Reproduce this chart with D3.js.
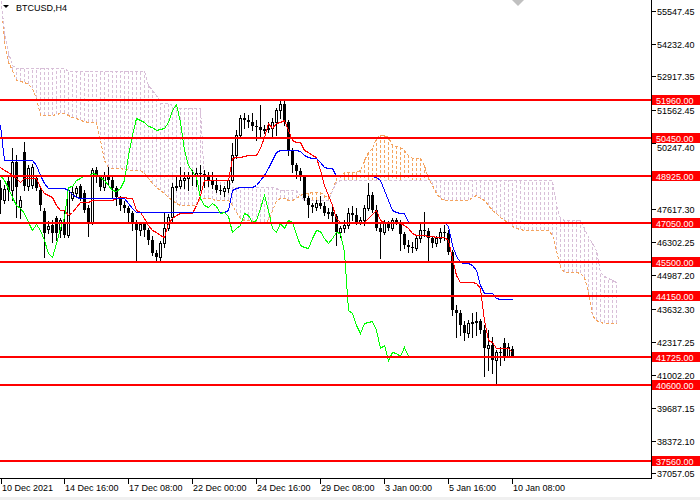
<!DOCTYPE html>
<html><head><meta charset="utf-8">
<script src="https://cdn.jsdelivr.net/npm/d3@7"></script>
<style>
html,body{margin:0;padding:0;background:#fff;}
svg{display:block;}
text{font-family:"Liberation Sans",Arial,sans-serif;font-size:9px;}
</style></head><body>
<svg id="c" width="700" height="500"></svg>
<script>
const title = "BTCUSD,H4";
const timeLabels = ["10 Dec 2021","14 Dec 16:00","17 Dec 08:00","22 Dec 00:00","24 Dec 16:00","29 Dec 08:00","3 Jan 00:00","5 Jan 16:00","10 Jan 08:00"];
const timeLabelBars = [0,16,32,48,64,80,96,112,128];
const priceTicks = [55547.45,54232.40,52917.35,51562.45,50247.40,47617.30,46302.25,44987.20,43632.30,42317.25,41002.20,39687.15,38372.10,37057.05];
const levels = [51960,50450,48925,47050,45500,44150,41725,40600,37560];

const open = [48450,47970,48730,48370,49490,47690,49890,48530,48570,48850,
48370,47530,46820,46980,47250,46780,47090,46580,48050,48250,
48530,48250,47650,47090,49170,48890,48490,48970,48770,48450,
48090,47770,47650,47450,47090,46780,47010,46780,46380,45860,
45700,46260,46860,47290,48490,48530,48770,48850,48970,48930,
49050,49010,48890,48770,48570,48370,48330,48450,48770,49770,
50560,51240,51160,51080,50920,50880,50760,50800,50840,51080,
51560,51800,51080,49970,49370,49130,48890,48050,47770,47690,
47850,47730,47450,47490,47330,46700,46860,46980,47450,47370,
47090,47170,47650,48170,47570,46860,46700,47050,46860,47170,
47090,46620,46180,46100,46060,46460,46780,46740,46460,46260,
46460,46700,46660,45900,43580,43460,42990,42670,43070,43110,
43150,42790,42070,42190,41590,41910,42270,41750,42030];
const high = [48770,48570,48930,50050,49770,48130,50290,49370,49410,48970,
48450,47650,47130,47170,47330,47250,47570,48450,48490,48530,
48610,48370,47770,49250,49290,48970,49090,49290,48890,48530,
48130,47930,47730,47530,47170,47090,47090,46860,46540,45980,
46340,47450,47410,48650,48930,49290,49090,49090,49170,49250,
49370,49170,49090,49090,48850,48570,48530,48850,50250,50760,
51360,51440,51360,51440,51160,51760,50960,51080,51240,51640,
52000,51920,51160,50050,49450,49250,48970,48130,47850,47970,
48130,47890,47650,47690,47410,46940,47170,47650,47730,47650,
47290,47770,48650,48290,47770,47090,47170,47130,47250,47250,
47170,46700,46380,46300,46540,47050,47490,46860,46540,46540,
46860,46980,46780,45980,43780,43580,43140,43180,43460,43500,
43220,42990,42790,42510,41990,42110,42470,42270,42150];
const low = [47450,47850,47970,47970,47290,47250,48370,48370,48450,48370,
47570,45700,46660,46300,46380,46500,46500,46500,47970,48130,
47970,47490,46540,47010,48690,48370,48370,48610,48090,47770,
47570,47490,47090,46780,45500,46580,46540,46220,45780,45500,
45580,46100,46780,47090,48370,48450,48450,48370,48570,48530,
48370,48490,48530,48450,48290,48210,48130,48290,48690,49650,
50450,50840,50880,50760,50370,50490,50650,50690,50490,50560,
51240,50960,49770,49090,48850,48770,47970,47290,47490,47570,
47650,47370,47250,47090,46180,46500,46700,46860,47170,47010,
47010,46980,47570,47490,46780,45660,46620,46780,46780,47010,
45980,46060,45900,45900,45980,46300,46540,45500,46100,46140,
46300,46380,45820,43390,42510,42590,42390,42510,42510,42590,
42670,40950,41190,41070,40670,41390,41590,41710,41750];
const close = [47970,48410,48370,49490,48490,47970,48530,49250,49290,48450,
47770,46660,46940,46660,46660,47170,46580,48370,48290,48450,
48050,47570,47050,49170,48890,48490,48970,48770,48450,48090,
47770,47650,47450,47090,46780,47010,46780,46380,45860,45700,
46260,46860,47290,48490,48530,48770,48850,48970,48930,49050,
49010,48890,48770,48570,48370,48330,48450,48770,49770,50560,
51240,51160,51080,50920,50880,50760,50800,50840,51080,51560,
51800,51080,49970,49370,49130,48890,48050,47770,47690,47850,
47730,47450,47490,47330,46700,46860,46980,47450,47370,47090,
47170,47650,48170,47570,46860,46700,47050,46860,47170,47090,
46620,46180,46100,46060,46460,46780,46740,46460,46260,46460,
46700,46660,45900,43580,43460,42990,42670,43070,43110,43150,
42790,42070,42190,41590,41910,41870,41750,42110,41750];

const tenkan = [49290,49170,49090,48970,48850,48690,48850,48850,48850,48850,
48490,48250,48170,48090,47770,47570,47570,47370,47490,47690,
47890,47890,47890,47970,47970,47970,47970,47970,47970,48050,
48090,48090,48050,48050,47570,47490,47250,46970,46780,46700,
46580,46500,47050,47250,47370,47450,47450,47450,47450,47770,
48170,48770,48770,48770,48770,48770,48770,48770,49650,49690,
49690,49730,49770,49770,49770,50050,50480,51040,50840,51040,
51080,51160,50760,50370,50290,50290,49970,49890,49770,49690,
49170,48570,48170,47770,47250,47090,47090,47090,47090,47090,
47050,47090,47250,47410,47570,47170,47090,47090,47090,47050,
47050,46970,46850,46650,46580,46580,46580,46540,46540,46500,
46500,46500,46380,45660,44980,44700,44700,44700,44700,44660,
44460,43180,42390,42310,42070,42070,42070,42070,41910];
const kijun = [50960,49570,49570,49570,49570,49570,49570,49570,49570,49370,
48970,48650,48450,48450,48450,48450,48450,48370,48210,48090,
48050,48050,48050,48050,48050,48050,48050,48050,48050,48050,
48050,48050,47850,47650,47490,47490,47490,47490,47490,47490,
47490,47490,47490,47490,47490,47490,47490,47490,47490,47490,
47490,47490,47490,47490,47490,47490,47490,47570,48370,48450,
48490,48490,48490,48490,48570,48770,48970,49250,49570,49890,
49970,49970,49970,49970,49970,49930,49770,49690,49650,49650,
49490,49290,49250,49250,48930,48930,48930,48930,48930,48930,
48930,48930,48930,48930,48890,48770,48370,47970,47570,47490,
47450,47450,47090,47090,47090,47090,47090,47090,47090,47090,
47090,47090,46940,46180,45740,45500,45460,45460,45380,45180,
44580,44260,44260,44260,44060,44020,44020,44020,44020];
const spanA = [56350,54350,53480,53160,52760,52720,52680,52600,52440,52040,
51360,51360,51360,51360,51400,51440,51440,51360,51280,51240,
51160,51120,51080,51080,51080,50370,49570,49290,49250,49250,
49250,49210,49210,49170,49170,49170,49050,48850,48650,48490,
48370,48250,48090,47970,47850,47770,47770,47770,47770,47770,
48050,48050,48050,48010,47970,47970,47970,47970,47770,47490,
47250,47170,47170,47130,47090,47090,47090,47170,47570,47970,
48050,48050,47970,47970,48050,48170,48250,48250,48290,48290,
48290,48170,48050,48370,48850,48970,49090,49090,49090,49090,
49170,49570,49890,50050,50440,50560,50560,50480,50170,50130,
50090,49970,49770,49650,49650,49650,49370,48850,48570,48250,
48050,47970,47970,47970,47970,47970,47970,47970,48090,48170,
48050,47970,47770,47570,47450,47290,47170,47090,46930,46850,
46810,46780,46780,46780,46780,46780,46780,46780,46580,45980,
45300,45100,45100,45100,45100,45060,44900,44300,43380,43180,
43100,43070,43070,43070,43070];
const spanB = [56150,54750,53880,53360,53240,53240,53240,53240,53240,53240,
53240,53240,53240,53240,53240,53240,53240,53120,53120,53120,
53120,53120,53120,53120,53120,53120,53120,53120,53120,53120,
53120,53120,53120,53120,53120,53120,53120,52560,52360,52160,
51840,51840,51840,51760,51640,51640,51640,51640,51640,51640,
51640,48770,48770,48770,48770,48770,48770,48770,48490,48490,
48490,48490,48490,48490,48490,48490,48490,48490,48490,48450,
48370,48370,48370,48370,48370,48170,47970,47970,47970,47970,
47970,47970,47970,48370,48690,48770,48770,48770,48770,48770,
48770,48770,48770,48770,48770,48770,48770,48770,48770,48770,
48770,48770,48770,48770,48770,48770,48770,48770,48770,48770,
48770,48770,48770,48770,48770,48770,48770,48770,48770,48770,
48770,48770,48770,48770,48770,48770,48770,48770,48770,48770,
48770,48770,48770,48770,48770,48770,48770,48770,48770,47770,
47250,47170,47170,47170,47170,47170,46860,46500,46260,45980,
45100,44940,44860,44780,44700];

const plotR = 651, plotB = 478;
const svg = d3.select("#c");
const x = d3.scaleLinear().domain([0,128]).range([0.5,512.5]);
const y = d3.scaleLinear().domain([51960,37560]).range([100.4,460.85]);
const col = i => Math.floor(x(i));
const ry = v => Math.round(y(v));

svg.append("rect").attr("width",700).attr("height",500).attr("fill","#fff");
svg.append("defs").append("clipPath").attr("id","plot").append("rect")
  .attr("x",0).attr("y",0).attr("width",plotR).attr("height",plotB);
const g = svg.append("g").attr("clip-path","url(#plot)").attr("shape-rendering","crispEdges");

// cloud hatch
const cloudIdx = d3.range(spanA.length);
g.append("g").selectAll("line").data(cloudIdx).join("line")
  .attr("x1",i=>col(i)+0.5).attr("x2",i=>col(i)+0.5)
  .attr("y1",i=>ry(spanA[i])).attr("y2",i=>ry(spanB[i]))
  .attr("stroke",i=>spanA[i]>=spanB[i]?"#F4A460":"#D8BFD8")
  .attr("stroke-width",1).attr("stroke-dasharray","3,2");
const lineGen = arr => d3.line().x((d,i)=>col(i)+0.5).y(d=>ry(d)+0.5)(arr);
g.append("path").attr("d",lineGen(spanA)).attr("fill","none").attr("stroke","#F4A460").attr("stroke-dasharray","3,2");
g.append("path").attr("d",lineGen(spanB)).attr("fill","none").attr("stroke","#D8BFD8").attr("stroke-dasharray","3,2");

// candles
const bars = d3.range(close.length);
const cg = g.append("g");
bars.forEach(i=>{
  const c = col(i);
  cg.append("line").attr("x1",c+0.5).attr("x2",c+0.5)
    .attr("y1",ry(high[i])).attr("y2",ry(low[i])+1).attr("stroke","#000");
  const top = ry(Math.max(open[i],close[i])), bot = ry(Math.min(open[i],close[i]));
  if (close[i] >= open[i]) {
    cg.append("rect").attr("x",c-0.5).attr("y",top+0.5).attr("width",2).attr("height",Math.max(bot-top,0))
      .attr("fill","#fff").attr("stroke","#000");
  } else {
    cg.append("rect").attr("x",c-1).attr("y",top).attr("width",3).attr("height",Math.max(bot-top,1))
      .attr("fill","#000");
  }
});

// ichimoku lines
g.append("path").attr("d",lineGen(tenkan)).attr("fill","none").attr("stroke","#FF0000");
g.append("path").attr("d",lineGen(kijun)).attr("fill","none").attr("stroke","#0000FF");
const chik = d3.range(26,close.length);
g.append("path").attr("d",d3.line().x(i=>col(i-26)+0.5).y(i=>ry(close[i])+0.5)(chik))
  .attr("fill","none").attr("stroke","#00FF00");

// horizontal levels
g.append("g").selectAll("rect").data(levels).join("rect")
  .attr("x",0).attr("width",plotR).attr("y",v=>ry(v)-1).attr("height",2).attr("fill","#FF0000");

// axes
const ax = svg.append("g").attr("shape-rendering","crispEdges");
ax.append("line").attr("x1",plotR+0.5).attr("x2",plotR+0.5).attr("y1",0).attr("y2",plotB+1).attr("stroke","#000");
ax.append("line").attr("x1",0).attr("x2",plotR+1).attr("y1",plotB+0.5).attr("y2",plotB+0.5).attr("stroke","#000");
const fmt = d3.format(".2f");
const levelY = levels.map(ry);
priceTicks.forEach(v=>{
  const yy = ry(v);
  ax.append("line").attr("x1",plotR+1).attr("x2",plotR+5).attr("y1",yy+0.5).attr("y2",yy+0.5).attr("stroke","#000");
  // push a tick label just below a level label box if they would collide
  let ty = yy + 3.5;
  levelY.forEach(ly=>{ if (ty > ly - 5 && ty - 7 < ly + 5) ty = ly + 5 + 7.5; });
  svg.append("text").attr("x",657).attr("y",ty).attr("fill","#000").text(fmt(v));
});
levels.forEach(v=>{
  const yy = ry(v);
  svg.append("rect").attr("x",plotR+1).attr("y",yy-5).attr("width",48).attr("height",10).attr("fill","#FF0000");
  svg.append("text").attr("x",656).attr("y",yy+3.5).attr("fill","#fff").text(fmt(v));
});
timeLabelBars.forEach((b,k)=>{
  const c = k===0 ? 1 : col(b);
  ax.append("line").attr("x1",c+0.5).attr("x2",c+0.5).attr("y1",plotB+1).attr("y2",plotB+6).attr("stroke","#000");
  svg.append("text").attr("x",c+1).attr("y",491).attr("fill","#000").text(timeLabels[k]);
});

// title
svg.append("path").attr("d","M3,5 L9,5 L6,8 Z").attr("fill","#000");
svg.append("text").attr("x",16).attr("y",11).attr("fill","#000").text(title);
// chart shift marker
svg.append("path").attr("d","M512,0 L524,0 L518,6 Z").attr("fill","#c0c0c0");
// bottom strip
svg.append("rect").attr("x",0).attr("y",497).attr("width",700).attr("height",3).attr("fill","#f0f0f0");
</script>
</body></html>
